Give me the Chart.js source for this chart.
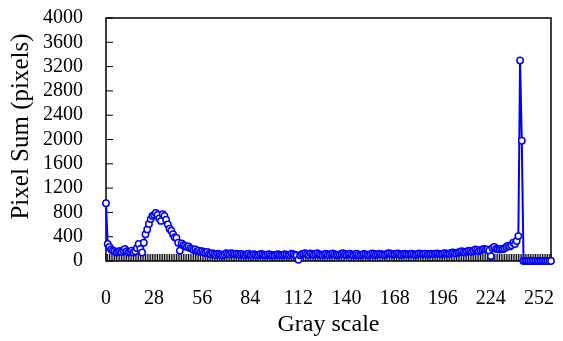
<!DOCTYPE html>
<html>
<head>
<meta charset="utf-8">
<script src="https://cdn.jsdelivr.net/npm/chart.js@4/dist/chart.umd.min.js"></script>
<style>
  html, body { margin: 0; padding: 0; background: #fff; }
  #wrap { width: 563px; height: 341px; }
</style>
</head>
<body>
<div id="wrap"><canvas id="histChart" width="563" height="341"></canvas></div>
<script>
// pixel count per gray level (0..259)
const pixelSum = [
  950, 280, 230, 190, 170, 160, 140, 150, 165, 150,
  175, 200, 160, 140, 150, 170, 140, 160, 210, 280,
  200, 140, 300, 440, 520, 610, 690, 740, 760, 790,
  760, 700, 660, 770, 740, 680, 600, 530, 500, 440,
  390, 380, 300, 170, 290, 260, 250, 230, 240, 210,
  200, 180, 190, 160, 170, 150, 160, 140, 130, 150,
  120, 110, 130, 110, 100, 120, 110, 100, 90, 110,
  130, 120, 110, 130, 120, 110, 120, 110, 100, 115,
  105, 95, 110, 120, 100, 95, 110, 105, 90, 100,
  115, 110, 100, 95, 105, 110, 100, 90, 95, 105,
  110, 100, 95, 100, 110, 105, 95, 100, 120, 110,
  100, 90, 20, 95, 110, 120, 130, 115, 100, 125,
  110, 100, 115, 130, 110, 100, 95, 110, 120, 105,
  100, 115, 125, 110, 100, 95, 105, 120, 130, 110,
  100, 115, 120, 105, 95, 110, 120, 100, 95, 105,
  115, 110, 100, 95, 110, 125, 115, 100, 110, 120,
  115, 105, 100, 110, 125, 130, 115, 105, 110, 120,
  125, 110, 100, 115, 120, 110, 105, 115, 120, 110,
  100, 110, 125, 120, 110, 115, 120, 105, 110, 120,
  115, 110, 120, 125, 115, 110, 120, 130, 125, 115,
  120, 135, 140, 130, 125, 140, 150, 160, 145, 140,
  155, 170, 165, 150, 170, 190, 180, 160, 175, 190,
  200, 185, 190, 170, 80, 210, 230, 200, 195, 190,
  200, 195, 210, 230, 250, 240, 260, 300, 280, 330,
  410, 3300, 1980, 0, 0, 0, 0, 0, 0, 0,
  0, 0, 0, 0, 0, 0, 0, 0, 0, 0
];
const grayLevels = pixelSum.map((_, i) => i);
const xTickLabels = [0, 28, 56, 84, 112, 140, 168, 196, 224, 252];
const yTickLabels = [0, 400, 800, 1200, 1600, 2000, 2400, 2800, 3200, 3600, 4000];
const yTitle = "Pixel Sum (pixels)";

const serif = "'Liberation Serif', 'Times New Roman', serif";

// inward ticks + box frame, drawn under the line
const frameTicks = {
  id: "frameTicks",
  beforeDatasetsDraw(chart) {
    const { ctx, chartArea: a, scales } = chart;
    ctx.save();
    ctx.strokeStyle = "#000";
    ctx.lineWidth = 1;
    ctx.beginPath();
    grayLevels.forEach((g) => {
      const x = scales.x.getPixelForValue(g);
      ctx.moveTo(x, a.bottom);
      ctx.lineTo(x, a.bottom - 7);
    });
    yTickLabels.forEach((v) => {
      const y = scales.y.getPixelForValue(v);
      ctx.moveTo(a.left, y);
      ctx.lineTo(a.left + 7, y);
    });
    ctx.stroke();
    ctx.lineWidth = 1.5;
    ctx.strokeRect(a.left, a.top, a.right - a.left, a.bottom - a.top);
    ctx.restore();
  },
  // y title sits a bit above the plot centre in the original
  afterDraw(chart) {
    const { ctx, chartArea: a } = chart;
    ctx.save();
    ctx.translate(21, (a.top + a.bottom) / 2 - 13);
    ctx.rotate(-Math.PI / 2);
    ctx.fillStyle = "#000";
    ctx.font = `25px ${serif}`;
    ctx.textAlign = "center";
    ctx.textBaseline = "middle";
    ctx.fillText(yTitle, 0, 0);
    ctx.restore();
  },
};

new Chart(document.getElementById("histChart"), {
  type: "line",
  data: {
    datasets: [
      {
        data: grayLevels.map((g, i) => ({ x: g, y: pixelSum[i] })),
        borderColor: "#0000ff",
        borderWidth: 2,
        pointRadius: 3.2,
        pointBorderWidth: 1.5,
        pointBackgroundColor: "#fff",
        pointBorderColor: "#0000ff",
        tension: 0,
        clip: false,
      },
    ],
  },
  options: {
    responsive: false,
    animation: false,
    layout: { padding: { top: 18, right: 12, left: 0, bottom: 0 } },
    plugins: { legend: { display: false }, tooltip: { enabled: false } },
    scales: {
      x: {
        type: "linear",
        min: 0,
        max: 259,
        afterBuildTicks: (scale) => {
          scale.ticks = xTickLabels.map((v) => ({ value: v }));
        },
        afterFit: (scale) => {
          scale.height = 80;
          scale.paddingLeft = 0;
          scale.paddingRight = 0;
        },
        grid: { display: false, drawTicks: false },
        border: { display: false },
        ticks: {
          autoSkip: false,
          maxRotation: 0,
          padding: 26,
          color: "#000",
          font: { family: serif, size: 20 },
        },
        title: {
          display: true,
          text: "Gray scale",
          color: "#000",
          font: { family: serif, size: 24 },
          padding: { top: 0, bottom: 2 },
        },
      },
      y: {
        min: 0,
        max: 4000,
        afterBuildTicks: (scale) => {
          scale.ticks = yTickLabels.map((v) => ({ value: v }));
        },
        afterFit: (scale) => {
          scale.width = 106;
          scale.paddingTop = 0;
          scale.paddingBottom = 0;
        },
        grid: { display: false, drawTicks: false },
        border: { display: false },
        ticks: {
          autoSkip: false,
          padding: 23,
          color: "#000",
          font: { family: serif, size: 20 },
          callback: (value) => String(value),
        },
      },
    },
  },
  plugins: [frameTicks],
});
</script>
</body>
</html>
